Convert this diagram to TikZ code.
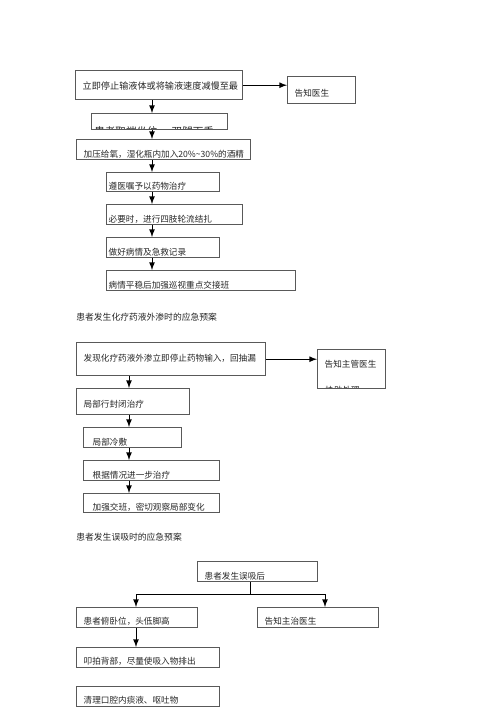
\documentclass[tikz,border=0pt]{standalone}
\usepackage{fontspec}
\newfontfamily\cjk{Noto Sans CJK SC}

\tikzset{
	kasten/.style={draw=black!65, line width=0.8pt, anchor=north west, inner ysep=0pt, inner xsep=1.4mm, align=left, text=black!85, font=\cjk\fontsize{4.9}{6}\selectfont},
	pfeil/.style={-latex, line width=0.5pt},
	linie/.style={line width=0.5pt},
	titel/.style={anchor=west, inner sep=0pt, text=black!85, font=\cjk\fontsize{5}{6}\selectfont}
}

\begin{document}
\begin{tikzpicture}[x=0.2mm, y=-0.2mm]

		\useasboundingbox (0,0) rectangle (500,707);

		%Plan 1
		\node[kasten, text width=30.6mm, text height=3.8mm, text depth=2mm, font=\cjk\fontsize{5.2}{6}\selectfont] (A1) at (75,70) {\mbox{立即停止输液体或将输液速度减慢至最}};
		\node[kasten, text width=10.8mm, text height=4mm, text depth=1.4mm] (N1) at (287,76) {告知医生};
		\node[kasten, inner xsep=0.4mm, text width=26.4mm, text height=3.2mm, text depth=0mm,
			path picture={\node[anchor=base west, inner sep=0pt, text=black!85, font=\cjk\fontsize{6}{6}\selectfont] (B1t)
				at ([xshift=0.4mm, yshift=-1.1mm]path picture bounding box.south west) {患者取端坐位，\ 双腿下垂};}] (B1) at (91,113) {};
		\node[kasten, text width=32mm, text height=3.6mm, text depth=0.4mm] (C1) at (76,139) {\mbox{加压给氧，湿化瓶内加入20\%\textasciitilde30\%的酒精}};
		\node[kasten, inner xsep=0.4mm, text width=21.8mm, text height=3.4mm, text depth=0.4mm] (D1) at (106,172) {遵医嘱予以药物治疗};
		\node[kasten, inner xsep=0.4mm, text width=26.4mm, text height=3.6mm, text depth=0.4mm] (E1) at (106,204) {必要时，进行四肢轮流结扎};
		\node[kasten, inner xsep=0.4mm, text width=21.8mm, text height=3.6mm, text depth=0.4mm] (F1) at (106,237) {做好病情及急救记录};
		\node[kasten, inner xsep=0.4mm, text width=37mm, text height=3.6mm, text depth=0.4mm] (G1) at (106,270) {病情平稳后加强巡视重点交接班};

		\coordinate (s1) at (152,0);
		\draw[pfeil] (A1.east) -- (A1.east -| N1.west);
		\foreach \a/\b in {A1/B1, B1/C1, C1/D1, D1/E1, E1/F1, F1/G1}
			\draw[pfeil] (s1 |- \a.south) -- (s1 |- \b.north);

		%Plan 2
		\node[titel] (T2) at (76,317) {患者发生化疗药液外渗时的应急预案};
		\node[kasten, text width=35mm, text height=3.8mm, text depth=2.8mm] (A2) at (76,342) {发现化疗药液外渗立即停止药物输入，回抽漏};
		\node[kasten, text width=10.8mm, text height=3.6mm, text depth=4.2mm,
			path picture={\node[anchor=base west, inner sep=0pt, text=black!85, font=\cjk\fontsize{4.9}{6}\selectfont] (N2t)
				at ([xshift=1.4mm, yshift=-0.9mm]path picture bounding box.south west) {协助处理};}] (N2) at (317,349) {告知主管医生};
		\node[kasten, text width=19.8mm, text height=3.8mm, text depth=1.4mm] (B2) at (76,388) {局部行封闭治疗};
		\node[kasten, inner xsep=1.8mm, text width=16mm, text height=3.6mm, text depth=0.4mm] (C2) at (83,427) {局部冷敷};
		\node[kasten, inner xsep=1.8mm, text width=23.6mm, text height=3.6mm, text depth=0.4mm] (D2) at (83,460) {根据情况进一步治疗};
		\node[kasten, inner xsep=1.8mm, text width=23.6mm, text height=3.4mm, text depth=0.4mm] (E2) at (83,493) {加强交班，密切观察局部变化};

		\coordinate (s2) at (129,0);
		\draw[pfeil] (A2.east) -- (A2.east -| N2.west);
		\foreach \a/\b in {A2/B2, B2/C2, C2/D2, D2/E2}
			\draw[pfeil] (s2 |- \a.south) -- (s2 |- \b.north);

		%Plan 3
		\node[titel] (T3) at (76,537) {患者发生误吸时的应急预案};
		\node[kasten, text width=21.2mm, text height=3.5mm, text depth=0.5mm] (A3) at (197,561) {患者发生误吸后};
		\node[kasten, text width=21.4mm, text height=3.4mm, text depth=0.6mm] (B3) at (76,607) {患者俯卧位，头低脚高};
		\node[kasten, text width=21.4mm, text height=3.4mm, text depth=0.6mm] (C3) at (257,607) {告知主治医生};
		\node[kasten, text width=25.8mm, text height=3.4mm, text depth=0.6mm] (D3) at (76,647) {叩拍背部，尽量使吸入物排出};
		\node[kasten, text width=25.8mm, text height=3.4mm, text depth=0.6mm] (E3) at (76,686) {清理口腔内痰液、呕吐物};

		\coordinate (m3) at (250,594);
		\coordinate (l3) at (136,0);
		\coordinate (r3) at (325,0);
		\draw[linie] (m3 |- A3.south) -- (m3);
		\draw[pfeil] (m3) -| (l3 |- B3.north);
		\draw[pfeil] (m3) -| (r3 |- C3.north);
		\draw[pfeil] (l3 |- B3.south) -- (l3 |- D3.north);

\end{tikzpicture}
\end{document}
